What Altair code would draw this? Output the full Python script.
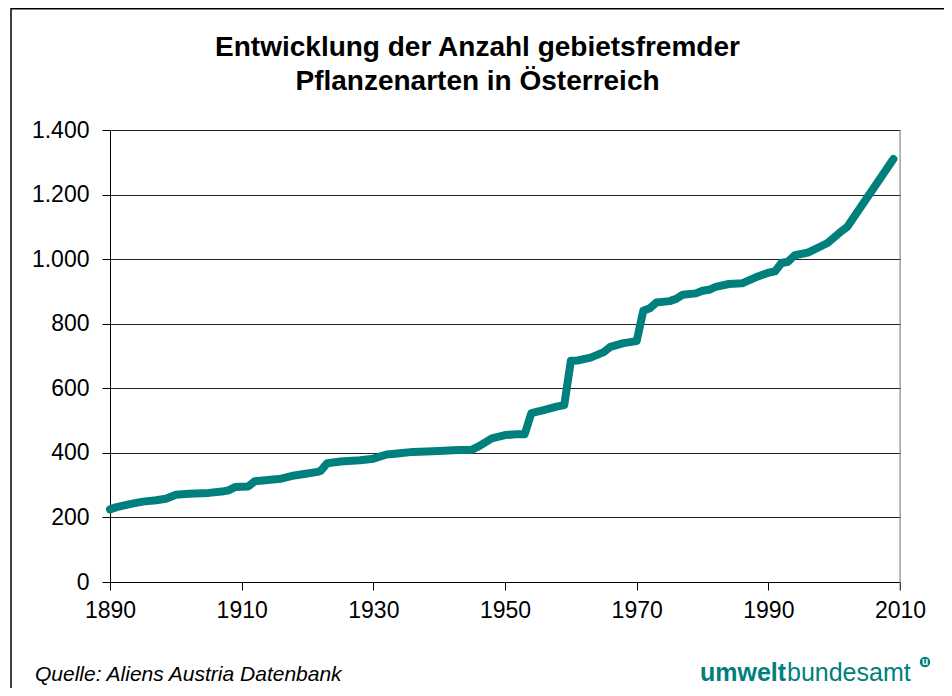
import altair as alt
import pandas as pd

# ---- data ----
years = [1890, 1891, 1893, 1895, 1897, 1898.5, 1900, 1902, 1905, 1907, 1908, 1909,
         1911, 1912, 1914, 1916, 1918, 1920, 1921.5, 1922, 1923, 1925, 1928, 1930,
         1932, 1934, 1936, 1940, 1942, 1945, 1946, 1948, 1950, 1952, 1953, 1954,
         1956, 1958, 1959, 1960, 1961, 1963, 1965, 1966, 1968, 1970, 1971, 1972,
         1973, 1975, 1976, 1977, 1979, 1980, 1981, 1982, 1984, 1986, 1988, 1990,
         1991, 1992, 1993, 1994, 1996, 1998, 1999, 2001, 2002, 2009]
counts = [225, 232, 241, 249, 253, 258, 270, 273, 276, 280, 284, 294,
          296, 312, 316, 320, 330, 336, 341, 344, 368, 373, 377, 382,
          395, 399, 403, 406, 408, 410, 420, 445, 455, 458, 458, 523,
          533, 544, 548, 685, 686, 695, 712, 728, 740, 746, 840, 848,
          866, 870, 877, 890, 894, 902, 905, 914, 923, 925, 943, 958,
          962, 988, 992, 1012, 1020, 1040, 1050, 1085, 1100, 1310]
x_ticks = [1890, 1910, 1930, 1950, 1970, 1990, 2010]
y_ticks = [0, 200, 400, 600, 800, 1000, 1200, 1400]
title_lines = ["Entwicklung der Anzahl gebietsfremder", "Pflanzenarten in Österreich"]
source_text = "Quelle: Aliens Austria Datenbank"
logo_bold = "umwelt"
logo_regular = "bundesamt"
logo_mark = "u"

TEAL = "#00807D"
FONT = "Liberation Sans"

df = pd.DataFrame({"Jahr": years, "Anzahl": counts})
one = pd.DataFrame({"k": [0]})

x_enc = alt.X("Jahr:Q",
              scale=alt.Scale(domain=[1890, 2010], nice=False, zero=False),
              axis=alt.Axis(values=x_ticks, format="d", title=None, grid=False,
                            tickSize=8, tickColor="black", domainColor="black",
                            labelFontSize=23, labelFont=FONT, labelColor="black",
                            labelPadding=9, labelFlush=False, labelOverlap=False))
y_enc = alt.Y("Anzahl:Q",
              scale=alt.Scale(domain=[0, 1400], nice=False),
              axis=alt.Axis(values=y_ticks, title=None, grid=True, gridColor="#222222",
                            gridWidth=1, tickSize=8, tickColor="black", domainColor="black",
                            labelFontSize=23, labelFont=FONT, labelColor="black",
                            labelPadding=13, labelOverlap=False,
                            labelExpr="replace(format(datum.value, ','), ',', '.')"))

line = alt.Chart(df).mark_line(color=TEAL, strokeWidth=8, strokeCap="round",
                               strokeJoin="round").encode(x=x_enc, y=y_enc)

right_border = alt.Chart(one).mark_rule(color="#808080", strokeWidth=1).encode(
    x=alt.value(790), y=alt.value(0), y2=alt.value(460))

frame_top = alt.Chart(one).mark_rule(color="black", strokeWidth=1.5).encode(
    x=alt.value(-99), x2=alt.value(900), y=alt.value(-121.2))
frame_left = alt.Chart(one).mark_rule(color="black", strokeWidth=1.5).encode(
    x=alt.value(-99), y=alt.value(-122), y2=alt.value(600))

title = alt.Chart(one).mark_text(font=FONT, fontSize=28, fontWeight="bold",
                                 align="center", baseline="alphabetic",
                                 lineHeight=34, color="black").encode(
    text=alt.value(title_lines), x=alt.value(367.5), y=alt.value(-74))

source = alt.Chart(one).mark_text(font=FONT, fontSize=21, fontStyle="italic",
                                  align="left", baseline="alphabetic",
                                  color="black").encode(
    text=alt.value(source_text), x=alt.value(-75), y=alt.value(551))

logo1 = alt.Chart(one).mark_text(font=FONT, fontSize=25, fontWeight="bold",
                                 align="left", baseline="alphabetic", color=TEAL).encode(
    text=alt.value(logo_bold), x=alt.value(590), y=alt.value(551))
logo2 = alt.Chart(one).mark_text(font=FONT, fontSize=25, align="left",
                                 baseline="alphabetic", color=TEAL).encode(
    text=alt.value(logo_regular), x=alt.value(677), y=alt.value(551))
logo_circle = alt.Chart(one).mark_circle(color=TEAL, opacity=1, size=110).encode(
    x=alt.value(815), y=alt.value(532))
logo_u = alt.Chart(one).mark_text(font=FONT, fontSize=10, fontWeight="bold",
                                  align="center", baseline="middle", color="white").encode(
    text=alt.value(logo_mark), x=alt.value(815), y=alt.value(531.5))

chart = alt.layer(line, right_border, frame_top, frame_left, title, source,
                  logo1, logo2, logo_circle, logo_u).properties(
    width=790, height=452,
    autosize=alt.AutoSizeParams(type="none"),
    padding={"left": 102, "top": 122, "right": 44, "bottom": 106},
).configure_view(stroke=None).configure(background="white")

chart.save("out.html", embed_options={"renderer": "svg", "actions": False})
